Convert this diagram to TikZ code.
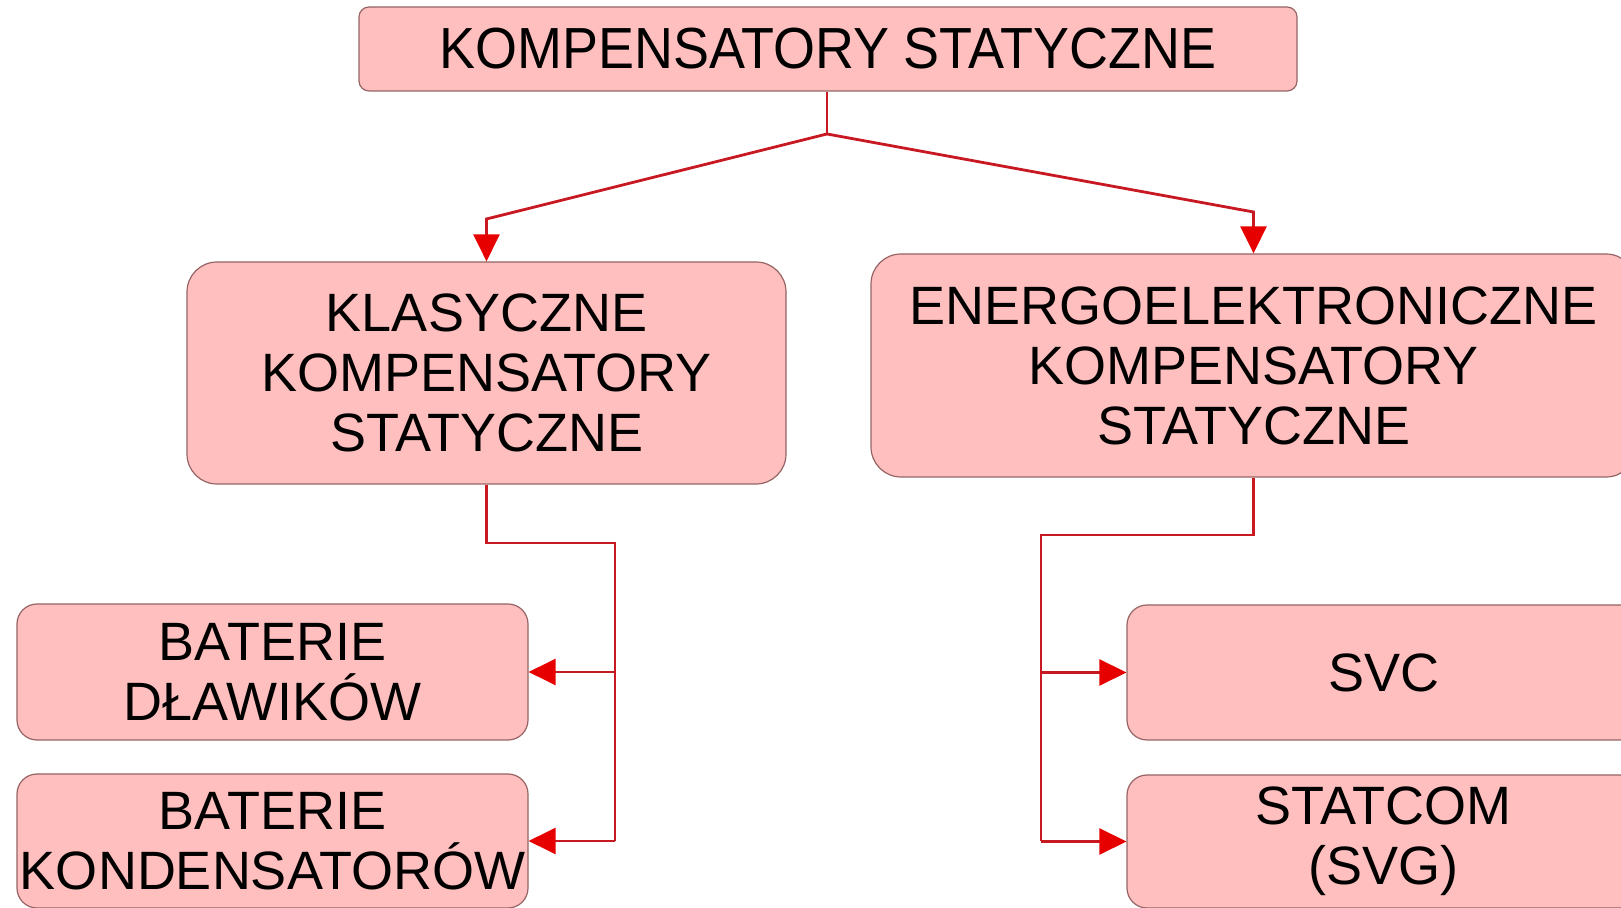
\documentclass[tikz,border=0pt]{standalone}
\usepackage{fontspec}
\setmainfont{Liberation Sans}
\usetikzlibrary{arrows.meta}
\definecolor{boxfill}{RGB}{255,191,191}
\definecolor{boxline}{RGB}{150,100,100}
\definecolor{connred}{RGB}{200,25,35}
\definecolor{tipred}{RGB}{230,0,0}
\tikzset{
  box/.style={draw=boxline, line width=1.2pt, fill=boxfill, rounded corners=#1,
    align=center, inner sep=0pt, font=\fontsize{54}{60}\selectfont},
  conn/.style={draw=connred, line width=2.8pt},
  arr/.style={conn, -{Triangle[width=26pt,length=27pt,fill=tipred,color=tipred]}},
}
\begin{document}
\begin{tikzpicture}[x=1pt,y=1pt]
\useasboundingbox (0,0) rectangle (1621,907);
\node[box=10pt, minimum width=938pt, minimum height=84pt] (top) at (828,858)
  {\scalebox{0.93}[1]{\fontsize{58}{60}\selectfont KOMPENSATORY STATYCZNE}};
\node[box=30pt, minimum width=599pt, minimum height=222pt] (klas) at (486.5,534)
  {KLASYCZNE\\KOMPENSATORY\\STATYCZNE};
\node[box=30pt, minimum width=765pt, minimum height=223pt] (energ) at (1253.5,541.5)
  {ENERGOELEKTRONICZNE\\KOMPENSATORY\\STATYCZNE};
\node[box=20pt, minimum width=511pt, minimum height=136pt] (dlaw) at (272.5,235)
  {BATERIE\\DŁAWIKÓW};
\node[box=20pt, minimum width=511pt, minimum height=134pt] (kond) at (272.5,66)
  {BATERIE\\KONDENSATORÓW};
\node[box=20pt, minimum width=513pt, minimum height=135pt] (svc) at (1383.5,234.5)
  {SVC};
\node[box=20pt, minimum width=513pt, minimum height=133pt] (statcom) at (1383.5,65.5)
  {STATCOM\\(SVG)};
% top connectors
\coordinate (j) at (827,773);
\coordinate (lk) at (486.5,688);
\coordinate (rk) at (1253.5,695);
\draw[conn] (top.south -| j) -- (j);
\draw[arr] (j) -- (lk) -- (klas.north);
\draw[arr] (j) -- (rk) -- (energ.north);
% left bus
\coordinate (lb) at (615,364);
\draw[conn] (klas.south) |- (lb) -- (lb |- kond.east);
\draw[arr] (lb |- dlaw.east) -- (dlaw.east);
\draw[arr] (lb |- kond.east) -- (kond.east);
% right bus
\coordinate (rb) at (1041,372);
\draw[conn] (energ.south) |- (rb) -- (rb |- statcom.west);
\draw[arr] (rb |- svc.west) -- (svc.west);
\draw[arr] (rb |- statcom.west) -- (statcom.west);
\end{tikzpicture}
\end{document}
